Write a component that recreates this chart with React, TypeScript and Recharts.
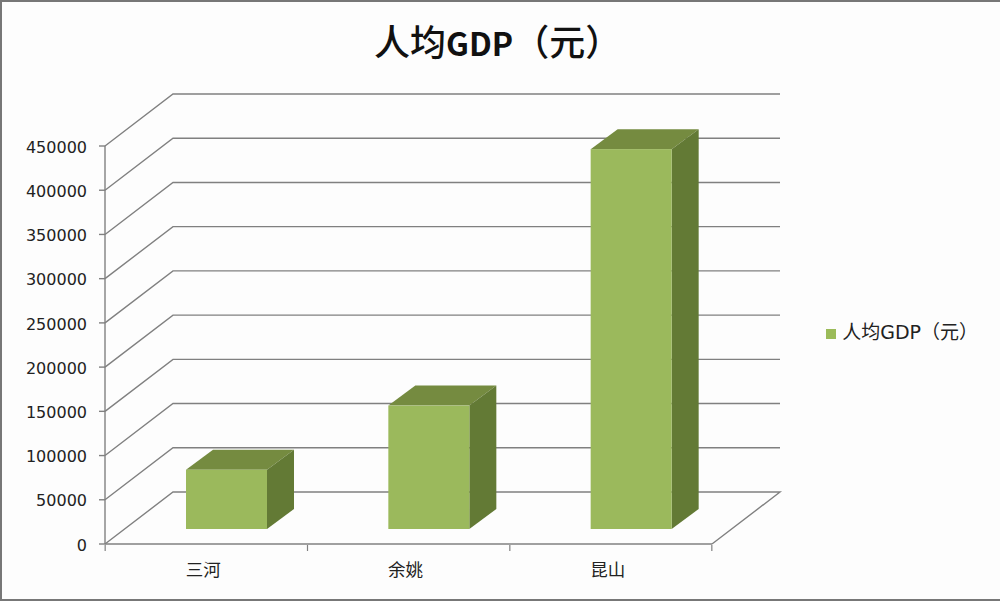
import React from "react"
import { BarChart, Bar, XAxis, YAxis, CartesianGrid, Legend } from "recharts"

const CITIES = ["三河", "余姚", "昆山"]
const GDP_VALUES = [67000, 139500, 429500]
const Y_TICKS = [0, 50000, 100000, 150000, 200000, 250000, 300000, 350000, 400000, 450000]
const SERIES_NAME = "人均GDP（元）"

const data = CITIES.map((city, i) => ({ city, gdp: GDP_VALUES[i] }))

const FONT = '"DejaVu Sans", "Noto Sans CJK SC", sans-serif'
const GRID = "#808080"
const AXIS = "#808080"

// fake 3D: the back wall sits up and to the right of the axes
const WALL_DX = 68
const WALL_DY = -52
const BAR_DX = 27
const BAR_DY = -20
const BAR_SHIFT_X = 20
const BAR_SHIFT_Y = -15

function WallLine(props: any) {
  const { x1, x2, y1, index } = props
  const isFloor = y1 > 540
  const wx = x1 + WALL_DX
  const wy = y1 + WALL_DY
  return (
    <g key={`wall-${index}`}>
      <path
        d={`M${x1},${y1}L${wx},${wy}L${x2 + WALL_DX},${wy}${isFloor ? `L${x2},${y1}` : ""}`}
        fill="none"
        stroke={GRID}
        strokeWidth={1.4}
      />
    </g>
  )
}

function Box3D(props: any) {
  const { x, y, width, height } = props
  const l = x + BAR_SHIFT_X
  const r = l + width
  const t = y + BAR_SHIFT_Y
  const b = t + height
  return (
    <g>
      <path d={`M${l},${t}L${l + BAR_DX},${t + BAR_DY}L${r + BAR_DX},${t + BAR_DY}L${r},${t}Z`} fill="#758b40" />
      <path d={`M${r},${t}L${r + BAR_DX},${t + BAR_DY}L${r + BAR_DX},${b + BAR_DY}L${r},${b}Z`} fill="#637a35" />
      <rect x={l} y={t} width={width} height={height} fill="#9bb95c" />
    </g>
  )
}

function CityTick(props: any) {
  const { x, y, payload, index } = props
  const half = 101
  return (
    <g>
      <line x1={x - half} y1={y - 7} x2={x - half} y2={y - 1} stroke={AXIS} strokeWidth={1.2} />
      {index === CITIES.length - 1 && (
        <line x1={x + half} y1={y - 7} x2={x + half} y2={y - 1} stroke={AXIS} strokeWidth={1.2} />
      )}
      <text x={x - 3} y={y + 24} textAnchor="middle" fontSize={17.5} fontFamily={FONT} fill="#222">
        {payload.value}
      </text>
    </g>
  )
}

export default function App() {
  return (
    <div
      style={{
        position: "absolute",
        left: 0,
        top: 0,
        width: 1000,
        height: 601,
        boxSizing: "border-box",
        background: "#fdfdfd",
        borderLeft: "2px solid #777",
        borderTop: "2px solid #777",
        borderBottom: "2px solid #777",
      }}
    >
      <div
        style={{
          position: "absolute",
          left: 372,
          top: 12,
          whiteSpace: "nowrap",
          fontFamily: '"Noto Sans CJK SC", sans-serif',
          fontWeight: 500,
          fontSize: 36,
          color: "#111",
        }}
      >
        人均<span style={{ fontSize: 32, fontWeight: 700 }}>GDP</span>（元）
      </div>
      <div style={{ position: "absolute", left: -2, top: -2 }}>
        <BarChart
          width={1000}
          height={601}
          data={data}
          margin={{ top: 146, right: 113, bottom: 0, left: 0 }}
        >
          <CartesianGrid vertical={false} horizontal={(p: any) => <WallLine {...p} />} />
          <XAxis
            dataKey="city"
            height={57}
            stroke={AXIS}
            strokeWidth={1.4}
            tickLine={false}
            tick={(p: any) => <CityTick {...p} />}
            interval={0}
          />
          <YAxis
            width={105}
            domain={[0, 450000]}
            ticks={Y_TICKS}
            interval={0}
            stroke={AXIS}
            strokeWidth={1.4}
            tickSize={6}
            tickMargin={12}
            tick={{ fontSize: 16, fontFamily: FONT, fill: "#222", dy: 1 }}
          />
          <Legend
            layout="horizontal"
            verticalAlign="middle"
            align="right"
            iconType="square"
            iconSize={10}
            wrapperStyle={{ left: 813, top: 317, width: 175, fontFamily: FONT, fontSize: 19 }}
            formatter={(value: any) => <span style={{ color: "#222", marginLeft: 2 }}>{value}</span>}
          />
          <Bar
            dataKey="gdp"
            name={SERIES_NAME}
            fill="#9bbb59"
            barSize={81}
            shape={(p: any) => <Box3D {...p} />}
            isAnimationActive={false}
          />
        </BarChart>
      </div>
    </div>
  )
}
